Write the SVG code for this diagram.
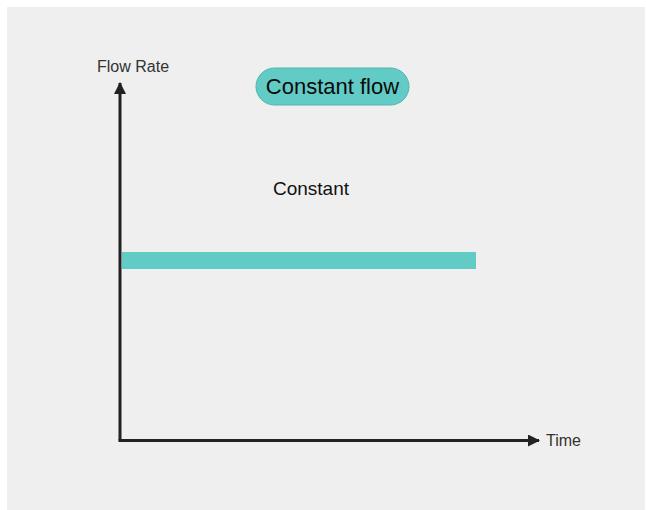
<svg xmlns="http://www.w3.org/2000/svg" width="646" height="510" viewBox="0 0 646 510">
<defs>
<style>
text{font-family:"Liberation Sans",Arial,sans-serif;}
.lbl{font-size:16px;fill:#333;}
.axis{stroke:#222;stroke-width:3;fill:none;}
</style>
<marker id="arr" markerWidth="12" markerHeight="12" viewBox="0 0 12 12" refX="11" refY="6" orient="auto" markerUnits="userSpaceOnUse">
<path d="M0,0 L12,6 L0,12 Z" fill="#222"/>
</marker>
</defs>
<rect x="0" y="0" width="646" height="510" fill="#ffffff"/>
<rect x="7" y="7" width="638" height="503" fill="#efefef"/>
<g id="connectors">
<path class="axis" d="M120,440.5 L120,83" marker-end="url(#arr)"/>
<path class="axis" d="M118.5,440.5 L539,440.5" marker-end="url(#arr)"/>
</g>
<g id="flow-rate-label"><text class="lbl" x="97" y="72">Flow Rate</text></g>
<g id="time-label"><text class="lbl" x="546" y="446">Time</text></g>
<g id="title"><rect x="256" y="68" width="153" height="37" rx="18.5" fill="#62cbc5" stroke="#52b5b0" stroke-width="1"/><text x="332.5" y="94" text-anchor="middle" font-size="22" fill="#0a0a0a">Constant flow</text></g>
<g id="constant-label"><text x="311" y="195" text-anchor="middle" font-size="19" fill="#111">Constant</text></g>
<g id="flow-bar"><rect x="122" y="252" width="354" height="17" fill="#62cbc5"/></g>
</svg>
